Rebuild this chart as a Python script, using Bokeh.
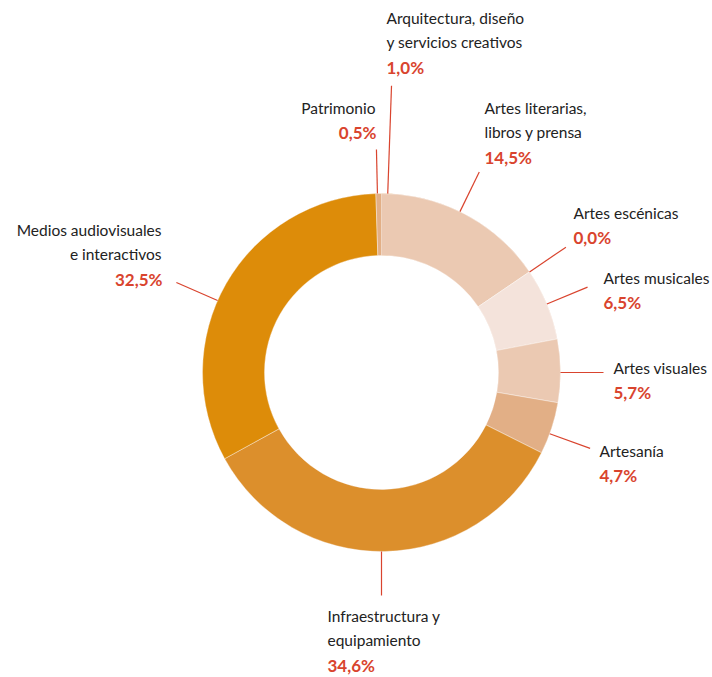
import math
from bokeh.plotting import figure
from bokeh.models import Range1d, ColumnDataSource
from bokeh.embed import file_html
from bokeh.resources import INLINE
from bokeh.core.properties import value

# ---- data ----
categories = [
    ["Arquitectura, diseño", "y servicios creativos"],
    ["Artes literarias,", "libros y prensa"],
    ["Artes escénicas"],
    ["Artes musicales"],
    ["Artes visuales"],
    ["Artesanía"],
    ["Infraestructura y", "equipamiento"],
    ["Medios audiovisuales", "e interactivos"],
    ["Patrimonio"],
]
shares = [1.0, 14.5, 0.0, 6.5, 5.7, 4.7, 34.6, 32.5, 0.5]
colors = ["#DC8F2C", "#EBC9B2", "#EBC9B2", "#F4E3DB", "#EBC9B2", "#E2AF86",
          "#DC8F2C", "#DD8C09", "#E2AF86"]

# ---- layout (pixel positions of labels in the page) ----
label_x = [386, 484, 573, 603, 613, 599, 327, 161, 375]
label_y = [17, 107, 212, 277, 367, 450, 615, 229, 107]
label_align = ["left", "left", "left", "left", "left", "left", "left", "right", "right"]
leader_angle = [2.0, 26.0, 55.8, 67.5, 90.0, 110.0, 180.0, 293.7, -1.3]  # clockwise from top
leader_end = [287, 223, 223, 223, 222, 222, 223, 224, 223]

W, H = 710, 675
PAD = 0
CX, CY = 381, 372
R_OUT, R_IN = 179, 117
LINE_H = 24.5

def tx(px):
    return px - PAD

def ty(py):
    return H + PAD - py

p = figure(width=W, height=H, output_backend="svg", toolbar_location=None,
           x_range=Range1d(0, W), y_range=Range1d(0, H), min_border=0)
p.axis.visible = False
p.grid.visible = False
p.outline_line_color = None
p.background_fill_color = "white"

# wedges
total = sum(shares)
starts, ends = [], []
acc = 0.0
for s in shares:
    a = acc / total * 2 * math.pi
    acc += s
    b = acc / total * 2 * math.pi
    starts.append(math.pi / 2 - b)
    ends.append(math.pi / 2 - a)

src = ColumnDataSource(dict(x=[tx(CX)] * len(shares), y=[ty(CY)] * len(shares),
                            start=starts, end=ends, color=colors))
p.annular_wedge(x="x", y="y", inner_radius=R_IN, outer_radius=R_OUT,
                inner_radius_units="screen", outer_radius_units="screen",
                start_angle="start", end_angle="end", direction="anticlock",
                fill_color="color", line_color="white", line_width=0.4, source=src)

# leader lines
xs, ys = [], []
for ang, rend in zip(leader_angle, leader_end):
    t = math.radians(ang)
    x0 = CX + R_OUT * math.sin(t); y0 = CY - R_OUT * math.cos(t)
    x1 = CX + rend * math.sin(t); y1 = CY - rend * math.cos(t)
    xs.append([tx(x0), tx(x1)]); ys.append([ty(y0), ty(y1)])
p.multi_line(xs=xs, ys=ys, line_color="#D9442E", line_width=1.2)

# labels
nx, ny, nt, na = [], [], [], []
px_, py_, pt, pa = [], [], [], []
for name, v, lx, ly, al in zip(categories, shares, label_x, label_y, label_align):
    for i, ln in enumerate(name):
        nx.append(tx(lx)); ny.append(ty(ly + i * LINE_H)); nt.append(ln); na.append(al)
    px_.append(tx(lx + (1 if al == "right" else 0)))
    py_.append(ty(ly + len(name) * LINE_H + 0.5))
    pt.append(f"{v:.1f}".replace(".", ",") + "%")
    pa.append(al)

p.text(x="x", y="y", text="t", text_align="a", text_baseline="middle",
       text_font=value("Lato"), text_font_size="15.5px", text_color="#222222",
       source=ColumnDataSource(dict(x=nx, y=ny, t=nt, a=na)))
p.text(x="x", y="y", text="t", text_align="a", text_baseline="middle",
       text_font=value("Lato"), text_font_size="17px", text_font_style="bold",
       text_color="#D9442E",
       source=ColumnDataSource(dict(x=px_, y=py_, t=pt, a=pa)))

open("out.html", "w").write(file_html(p, INLINE))
